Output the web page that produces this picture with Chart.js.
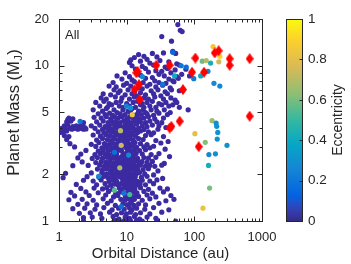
<!DOCTYPE html>
<html>
<head>
<meta charset="utf-8">
<script src="https://cdn.jsdelivr.net/npm/chart.js@4.4.0/dist/chart.umd.min.js"></script>
<style>
  body { margin: 0; background: #fff; }
  canvas { display: block; }
</style>
</head>
<body>
<canvas id="main" width="351" height="264"></canvas>
<script>
// axis ranges and tick labels
const xMin = 1, xMax = 1000;
const yMin = 1, yMax = 20;
const xTickLabels = [1, 10, 100, 1000];
const yTickLabels = [1, 2, 5, 10, 20];
const cbMin = 0, cbMax = 1;
const cbTicks = [0, 0.2, 0.4, 0.6, 0.8, 1];
const panelLabel = "All";
const xTitle = "Orbital Distance (au)";
const yTitleMain = "Planet Mass (M";
const yTitleSub = "J";
const yTitleEnd = ")";
const cbTitle = "Eccentricity";

// [orbital distance au, mass M_J] for the low eccentricity bulk
const cloudPoints = [
    [57,18.4],[62,16.9],[66,16.6],[33,15.4],[46,14.4],[48,12.4],[35,12.1],[53,12.0],[15,11.8],[24,12.0],
    [18,11.5],[13,11.3],[20,11.0],[28,11.4],[11.5,10.9],[11,10.5],[16,10.7],[22,10.4],[31,10.8],[42,10.6],
    [55,10.3],[12,10.0],[17,9.9],[25,10.1],[37,9.8],[60,10.1],[13.5,9.5],[19,9.6],[27,9.3],[40,9.6],
    [52,9.4],[75,9.5],[9.5,9.0],[14.5,8.9],[21,9.1],[30,8.8],[45,9.0],[33,9.2],[85,8.6],[7.2,8.6],
    [11,8.5],[16,8.7],[24,8.4],[36,8.6],[55,8.5],[65,8.8],[8.5,8.2],[12,8.1],[19,8.3],[26,8.0],
    [42,8.2],[48,8.0],[58,8.3],[6.3,7.8],[10,7.7],[13,7.9],[17.5,7.8],[22,7.6],[30,7.8],[38,7.7],
    [50,7.9],[5.5,7.4],[7,7.3],[9,7.5],[11.5,7.4],[15,7.2],[20,7.4],[27,7.3],[34,7.5],[44,7.2],
    [6.5,7.0],[8,6.9],[10.5,7.0],[13,6.8],[17,7.1],[23,6.9],[29,7.0],[37,6.8],[46,7.0],[60,6.9],
    [4.5,6.6],[5.8,6.5],[7.5,6.7],[9.5,6.5],[12,6.6],[14,6.4],[16,6.7],[19,6.5],[25,6.6],[32,6.4],
    [40,6.6],[4.2,6.2],[5,6.1],[6.8,6.3],[8.5,6.2],[11,6.1],[13,6.3],[15,6.0],[18,6.2],[21,6.1],
    [26,6.3],[35,6.1],[45,6.2],[52,6.0],[81,5.2],
    [3.5,5.8],[4.6,5.9],[5.5,5.7],[7,5.8],[8.2,5.9],[10,5.7],[12.5,5.8],[14.5,5.9],[17,5.7],[20,5.8],
    [24,5.9],[30,5.7],[38,5.8],[48,5.6],[55,5.8],[4,5.5],[5.2,5.4],[6,5.6],[7.8,5.5],[9,5.4],
    [11,5.5],[13.5,5.4],[16,5.6],[18,5.4],[22,5.5],[27,5.4],[33,5.6],[42,5.5],[60,5.4],[3.2,5.2],
    [4.4,5.1],[5,5.3],[6.5,5.2],[7.2,5.0],[8.8,5.2],[10.5,5.1],[12,5.3],[15,5.1],[17.5,5.2],[19,5.0],
    [23,5.2],[28,5.1],[36,5.2],[44,5.0],[3.8,4.9],[4.8,4.85],[5.6,4.95],[6.2,4.8],[8,4.9],[9.5,4.85],
    [11.5,4.95],[13,4.8],[14.5,4.9],[16.5,4.85],[20,4.9],[25,4.8],[30,4.95],[40,4.85],
    [1.4,4.6],[1.6,4.55],[3.3,4.65],[4.2,4.6],[5,4.7],[5.8,4.55],[6.8,4.65],[7.5,4.6],[8.5,4.7],[10,4.55],
    [11,4.65],[12.5,4.6],[14,4.7],[15.5,4.55],[18,4.6],[21,4.7],[26,4.55],[35,4.6],
    [1.3,4.35],[1.5,4.4],[1.35,4.5],[2.3,4.3],[3.6,4.35],[4.5,4.4],[5.3,4.3],[6,4.4],[7,4.35],[8,4.3],
    [9,4.4],[10.5,4.35],[11.8,4.3],[13.5,4.4],[16,4.35],[19,4.3],[22,4.4],[28,4.35],[33,4.3],
    [1.2,4.1],[1.35,4.15],[1.6,4.05],[1.8,4.1],[2.0,4.05],[2.2,4.1],[2.4,4.0],[3.0,4.1],[4,4.15],[4.8,4.05],
    [5.5,4.1],[6.3,4.2],[7.2,4.1],[8.2,4.05],[9.5,4.15],[10.8,4.1],[12.2,4.05],[14,4.2],[17,4.1],[20,4.05],
    [24,4.15],[30,4.1],[1.1,3.95],[1.25,3.9],[1.45,3.95],[1.55,3.9],[1.7,3.95],[1.9,3.9],[2.1,3.95],[2.3,3.9],
    [2.5,3.92],[3.4,3.95],[4.4,3.9],[5.1,3.98],[5.9,3.9],[6.6,3.95],[7.6,3.9],[8.7,3.98],[9.8,3.9],[11.2,3.95],
    [13,3.9],[15,3.95],[18,3.88],[1.02,3.72],[1.15,3.72],[1.3,3.8],[3.8,3.75],[4.6,3.72],[5.4,3.8],[6.1,3.75],
    [6.9,3.7],[7.8,3.78],[8.4,3.72],[9.2,3.8],[10.2,3.75],[11.5,3.7],[12.8,3.78],[14.5,3.72],[16,3.8],[21,3.75],
    [25,3.7],[1.2,3.55],[1.4,3.5],[3.2,3.58],[4.1,3.52],[4.9,3.6],[5.6,3.55],[6.4,3.5],[7.1,3.58],[8,3.52],
    [8.9,3.6],[9.6,3.55],[10.6,3.5],[12,3.58],[13.6,3.52],[19,3.55],[23,3.6],[35,3.5],[29,3.9],[38,4.0],
    [1.3,3.35],[3.6,3.32],[4.4,3.4],[5.2,3.35],[5.9,3.3],[6.6,3.38],[7.4,3.32],[8.3,3.4],[9.1,3.35],
    [10.1,3.3],[11.3,3.38],[12.5,3.32],[15,3.4],[17.5,3.35],[27,3.3],[41,3.25],
    [1.45,3.15],[3,3.12],[3.9,3.2],[4.7,3.15],[5.4,3.1],[6.2,3.18],[7,3.12],[7.7,3.2],[8.6,3.15],
    [9.4,3.1],[10.4,3.18],[11.8,3.12],[13.3,3.2],[16,3.15],[20,3.1],[32,3.18],
    [1.7,3.0],[3.5,3.02],[4.3,2.96],[5,3.0],[5.7,3.04],[6.5,2.97],[7.3,3.02],[8.1,2.98],[9,3.03],
    [9.9,2.96],[11,3.0],[12.2,3.04],[14,2.98],[18,3.0],[22,2.96],[25,3.03],[37,2.9],
    [2.5,2.85],[3.8,2.82],[4.5,2.86],[5.3,2.84],[6,2.88],[6.8,2.82],[7.6,2.86],[8.4,2.84],[10.3,2.88],
    [11.6,2.82],[13,2.86],[15.5,2.84],[19,2.88],
    [2.1,2.7],[3.4,2.68],[4.1,2.72],[4.8,2.7],[5.5,2.68],[6.3,2.72],[7.1,2.7],[8.8,2.68],[9.6,2.72],
    [10.8,2.7],[12,2.68],[13.8,2.72],[17,2.7],[23,2.68],[30,2.72],[43,2.6],
    [1.9,2.55],[3.1,2.53],[3.7,2.56],[4.4,2.54],[5.1,2.57],[5.8,2.53],[6.6,2.56],[7.4,2.54],[8.2,2.57],
    [9.2,2.53],[10.1,2.56],[11.3,2.54],[12.6,2.57],[14.5,2.53],[18,2.56],[21,2.54],[27,2.57],
    [2.2,2.4],[3.5,2.38],[4.2,2.41],[4.9,2.39],[5.6,2.42],[6.4,2.38],[7.2,2.41],[8,2.39],[8.8,2.42],
    [9.7,2.38],[10.6,2.41],[11.7,2.39],[13.2,2.42],[15.2,2.38],[16.8,2.41],[20,2.39],[24,2.42],[36,2.35],
    [1.6,2.27],[2.7,2.28],[4,2.29],[4.7,2.26],[5.4,2.28],[6.1,2.25],[6.9,2.29],[7.7,2.26],[8.5,2.28],
    [9.3,2.25],[10.3,2.29],[11.2,2.26],[12.4,2.28],[13.9,2.25],[16,2.29],[19,2.26],[22,2.28],[26,2.25],[33,2.29],
    [3.7,2.16],[4.4,2.14],[5.1,2.17],[5.9,2.13],[6.7,2.16],[7.5,2.14],[8.3,2.17],[9,2.13],[9.8,2.16],
    [10.8,2.14],[11.8,2.17],[13,2.13],[14.6,2.16],[17.5,2.14],[21,2.17],[29,2.1],
    [1.25,2.03],[3,2.04],[4.3,2.05],[5,2.01],[5.7,2.04],[6.4,2.02],[7.2,2.05],[8,2.01],[8.7,2.04],
    [9.5,2.02],[10.4,2.05],[11.4,2.01],[12.6,2.04],[14,2.02],[15.5,2.05],[18.5,2.01],[25,1.98],
    [1.15,1.9],[2.6,1.93],[3.9,1.91],[4.6,1.94],[5.3,1.9],[6,1.93],[6.8,1.91],[7.6,1.94],[8.4,1.9],[9.2,1.93],
    [10,1.91],[11,1.94],[12.1,1.9],[13.4,1.93],[16.5,1.91],[20,1.94],[34,1.88],
    [2.3,1.83],[3.2,1.81],[4.2,1.84],[5.5,1.8],[6.3,1.83],[7.1,1.81],[8.8,1.84],[9.6,1.8],[10.6,1.83],
    [11.7,1.81],[12.9,1.84],[14.5,1.8],[17,1.83],[22,1.81],[28,1.84],
    [1.8,1.72],[3.6,1.71],[4.8,1.74],[5.8,1.7],[6.6,1.73],[7.4,1.71],[8.2,1.74],[9.3,1.7],[10.2,1.73],
    [11.2,1.71],[12.4,1.74],[13.8,1.7],[15.8,1.73],[19,1.71],[25,1.74],
    [2.1,1.62],[3.3,1.63],[4.4,1.61],[5.1,1.64],[6.2,1.6],[7.8,1.63],[8.6,1.61],[9.9,1.64],[10.9,1.6],[11.9,1.63],
    [13.2,1.61],[16,1.64],[21,1.6],[31,1.63],[40,1.61],
    [1.5,1.53],[2.5,1.54],[3.8,1.52],[5.4,1.55],[6.9,1.51],[8.1,1.54],[9.1,1.52],[10.4,1.55],[11.5,1.51],[12.7,1.54],
    [14.2,1.52],[18,1.55],[24,1.51],[35,1.54],
    [1.7,1.45],[2.8,1.46],[4.9,1.47],[6.4,1.43],[7.4,1.46],[9.6,1.44],[10.9,1.47],[12.2,1.43],[13.6,1.46],
    [15,1.44],[20,1.47],[27,1.43],[45,1.46],
    [1.4,1.37],[2.2,1.38],[3.2,1.36],[4.5,1.39],[5.9,1.35],[8.2,1.38],[9.4,1.36],[10.6,1.39],[11.9,1.35],[13,1.38],
    [17,1.36],[22,1.39],[38,1.35],[50,1.38],
    [1.9,1.28],[2.6,1.29],[3.6,1.27],[5.2,1.3],[6.8,1.26],[8.8,1.29],[10.2,1.27],[11.3,1.3],[12.8,1.26],[15,1.29],
    [19,1.27],[30,1.3],
    [1.6,1.2],[2.4,1.21],[3.4,1.19],[4.6,1.22],[6.1,1.18],[7.6,1.21],[9.2,1.19],[10.9,1.22],[12,1.18],[14,1.21],
    [18.5,1.19],[25,1.22],[42,1.18],
    [2.0,1.12],[2.9,1.13],[4.1,1.11],[5.6,1.14],[7.1,1.1],[8.4,1.13],[9.9,1.11],[11.4,1.14],[13.5,1.1],[16,1.13],
    [22,1.11],[33,1.14],
    [2.3,1.05],[3.1,1.06],[4.3,1.04],[6.3,1.07],[7.7,1.03],[9.5,1.06],[11,1.04],[13,1.07],[15.5,1.03],[20,1.06],
    [27,1.04],[2.3,1.0],[6.5,1.0],[7,1.01],[9,1.0],[10,1.01],[11.5,1.0],[14,1.01],[17,1.0],[28,1.01],[53,1.0]
];

// planets with visible eccentricity: [au, M_J] and their eccentricity
const eccPoints = [
    [9.9,5.5],[11.4,5.35],[12.1,4.84],[2.05,4.38],[8.1,3.82],[8.3,3.07],[6.6,2.77],[10.7,2.66],[7.9,2.2],[3.85,1.94],
    [6.6,1.58],[11.1,1.48],[9.1,1.51],[8.3,1.24],[17.1,8.5],[34,7.6],[51,8.6],[64,10.0],[48,12.2],[76,9.8],
    [98,8.25],[124,8.6],[131,10.7],[150,10.8],[174,10.4],[189,13.3],[238,11.5],[230,10.6],[159,9.2],[195,7.7],
    [238,7.4],[183,4.43],[210,4.27],[214,4.07],[222,3.72],[218,3.37],[304,3.07],[102,3.65],[145,3.21],[164,2.68],
    [205,2.71],[162,2.28],[168,1.63],[134,1.21]
];
const eccValues = [
    0.25,0.3,0.85,0.2,0.7,0.74,0.18,0.27,0.68,0.27,
    0.55,0.52,0.2,0.18,0.27,0.2,0.4,0.2,0.15,0.18,
    0.22,0.4,0.58,0.7,0.43,0.85,0.88,0.75,0.25,0.27,
    0.27,0.65,0.3,0.3,0.3,0.3,0.3,0.8,0.62,0.27,
    0.3,0.43,0.6,0.82
];

// directly imaged companions (red diamonds): [au, M_J]
const imagedPoints = [
    [13.9,9.0],[14.5,9.2],[27.4,10.07],[43.2,10.07],[103.5,11.2],[200,12.1],[229,12.5],[333,11.1],[333,10.07],
    [657,11.1],[92.4,9.08],[139,9.08],[68,7.02],[13.1,7.02],[15.2,7.56],[15.6,6.05],[60.7,4.39],[43.2,3.97],
    [45.7,4.07],[116,3.01],[657,4.73]
];

// colormap (parula) table: [position, r, g, b]
const parulaStops = [
    [0, 53, 42, 135], [0.032, 54, 55, 160], [0.063, 50, 67, 186], [0.127, 3, 99, 225],
    [0.254, 20, 133, 212], [0.381, 6, 167, 198], [0.508, 56, 185, 158], [0.635, 146, 191, 115],
    [0.762, 217, 186, 86], [0.889, 252, 206, 46], [1, 249, 251, 14]
];

function parula(t) {
    t = Math.max(0, Math.min(1, t));
    for (let i = 1; i < parulaStops.length; i++) {
        const b = parulaStops[i];
        if (t <= b[0]) {
            const a = parulaStops[i - 1];
            const f = (t - a[0]) / (b[0] - a[0]);
            const c = [1, 2, 3].map(k => Math.round(a[k] + f * (b[k] - a[k])));
            return "rgb(" + c.join(",") + ")";
        }
    }
    return "rgb(249,251,14)";
}

function diamond(w, h, color) {
    const c = document.createElement("canvas");
    c.width = w;
    c.height = h;
    const g = c.getContext("2d");
    g.fillStyle = color;
    g.beginPath();
    g.moveTo(w / 2, 0);
    g.lineTo(w, h / 2);
    g.lineTo(w / 2, h);
    g.lineTo(0, h / 2);
    g.closePath();
    g.fill();
    return c;
}

const textColor = "#262626";
const fontFamily = "'Liberation Sans', Arial, Helvetica, sans-serif";
Chart.defaults.font.family = fontFamily;
Chart.defaults.color = textColor;

function logTicks(lo, hi) {
    let out = [];
    for (let d = 1; d < hi; d *= 10) {
        for (let m = 1; m < 10; m++) {
            const v = d * m;
            if (v >= lo && v <= hi) out.push(v);
        }
    }
    if (out.indexOf(hi) < 0) out.push(hi);
    return out;
}

const framePlugin = {
    id: "frame",
    afterDraw(chart) {
        const ctx = chart.ctx;
        const a = chart.chartArea;
        const xs = chart.scales.x, ys = chart.scales.y;
        ctx.save();
        ctx.strokeStyle = textColor;
        ctx.lineWidth = 1;
        ctx.strokeRect(a.left + 0.5, a.top + 0.5, a.right - a.left, a.bottom - a.top);

        // inward ticks on all four sides
        ctx.beginPath();
        logTicks(xMin, xMax).forEach(v => {
            const px = Math.round(xs.getPixelForValue(v)) + 0.5;
            const len = xTickLabels.includes(v) ? 5 : 3;
            ctx.moveTo(px, a.bottom + 0.5); ctx.lineTo(px, a.bottom + 0.5 - len);
            ctx.moveTo(px, a.top + 0.5); ctx.lineTo(px, a.top + 0.5 + len);
        });
        logTicks(yMin, yMax).forEach(v => {
            const py = Math.round(ys.getPixelForValue(v)) + 0.5;
            const len = yTickLabels.includes(v) ? 5 : 3;
            ctx.moveTo(a.left + 0.5, py); ctx.lineTo(a.left + 0.5 + len, py);
            ctx.moveTo(a.right + 0.5, py); ctx.lineTo(a.right + 0.5 - len, py);
        });
        ctx.stroke();

        ctx.fillStyle = textColor;
        // panel label
        ctx.font = "13px " + fontFamily;
        ctx.textAlign = "left";
        ctx.textBaseline = "middle";
        ctx.fillText(panelLabel, a.left + 6, 35);

        // x title
        ctx.font = "15px " + fontFamily;
        ctx.textAlign = "center";
        ctx.fillText(xTitle, (a.left + a.right) / 2, 254);

        // y title with subscript
        ctx.save();
        ctx.translate(14, 113);
        ctx.rotate(-Math.PI / 2);
        ctx.textAlign = "left";
        const mainFont = "16.5px " + fontFamily, subFont = "11px " + fontFamily;
        ctx.font = mainFont;
        const w1 = ctx.measureText(yTitleMain).width;
        const w3 = ctx.measureText(yTitleEnd).width;
        ctx.font = subFont;
        const w2 = ctx.measureText(yTitleSub).width;
        let x0 = -(w1 + w2 + w3) / 2;
        ctx.font = mainFont;
        ctx.fillText(yTitleMain, x0, 0);
        ctx.font = subFont;
        ctx.fillText(yTitleSub, x0 + w1 + 0.5, 4.5);
        ctx.font = mainFont;
        ctx.fillText(yTitleEnd, x0 + w1 + w2 + 1, 0);
        ctx.restore();

        // colour bar
        const cbL = 286, cbR = 302, cbT = a.top, cbB = a.bottom;
        const cbY = v => cbB - (v - cbMin) / (cbMax - cbMin) * (cbB - cbT);
        const grad = ctx.createLinearGradient(0, cbB, 0, cbT);
        for (let i = 0; i <= 40; i++) {
            grad.addColorStop(i / 40, parula(cbMin + i / 40 * (cbMax - cbMin)));
        }
        ctx.fillStyle = grad;
        ctx.fillRect(cbL, cbT, cbR - cbL, cbB - cbT);
        ctx.strokeStyle = textColor;
        ctx.strokeRect(cbL + 0.5, cbT + 0.5, cbR - cbL, cbB - cbT);
        ctx.beginPath();
        cbTicks.forEach(v => {
            const py = Math.round(cbY(v)) + 0.5;
            ctx.moveTo(cbR + 0.5, py); ctx.lineTo(cbR - 2.5, py);
        });
        ctx.stroke();
        ctx.fillStyle = textColor;
        ctx.font = "13.5px " + fontFamily;
        ctx.textAlign = "left";
        cbTicks.forEach(v => {
            ctx.fillText(String(v), 308, cbY(v));
        });
        ctx.save();
        ctx.translate(338, (cbT + cbB) / 2);
        ctx.rotate(-Math.PI / 2);
        ctx.textAlign = "center";
        ctx.font = "14px " + fontFamily;
        ctx.fillText(cbTitle, 0, 0);
        ctx.restore();

        ctx.restore();
    }
};

const myChart = new Chart(document.getElementById("main"), {
    type: "scatter",
    data: {
        datasets: [
            {
                label: "Imaged",
                data: imagedPoints.map(p => ({ x: p[0], y: p[1] })),
                pointStyle: diamond(8, 11, "#ff0000"),
                order: 1
            },
            {
                label: "Eccentric",
                data: eccPoints.map(p => ({ x: p[0], y: p[1] })),
                backgroundColor: eccValues.map(parula),
                pointRadius: 2.6,
                borderWidth: 0,
                order: 2
            },
            {
                label: "Bulk",
                data: cloudPoints.map(p => ({ x: p[0], y: p[1] })),
                backgroundColor: "rgb(60,42,162)",
                pointRadius: 2.6,
                borderWidth: 0,
                order: 3
            }
        ]
    },
    options: {
        responsive: false,
        animation: false,
        events: [],
        layout: { padding: { left: 0, right: 89, top: 19, bottom: 0 } },
        plugins: { legend: { display: false }, tooltip: { enabled: false } },
        scales: {
            x: {
                type: "logarithmic",
                min: xMin,
                max: xMax,
                grid: { display: false, drawTicks: false },
                border: { display: false },
                ticks: {
                    autoSkip: false,
                    maxRotation: 0,
                    padding: 9,
                    font: { size: 13 },
                    callback: v => xTickLabels.includes(v) ? String(v) : ""
                },
                afterFit: s => { s.height = 43; }
            },
            y: {
                type: "logarithmic",
                min: yMin,
                max: yMax,
                grid: { display: false, drawTicks: false },
                border: { display: false },
                ticks: {
                    autoSkip: false,
                    padding: 10,
                    font: { size: 13 },
                    callback: v => yTickLabels.includes(v) ? String(v) : ""
                },
                afterFit: s => { s.width = 59; }
            }
        }
    },
    plugins: [framePlugin]
});
</script>
</body>
</html>
